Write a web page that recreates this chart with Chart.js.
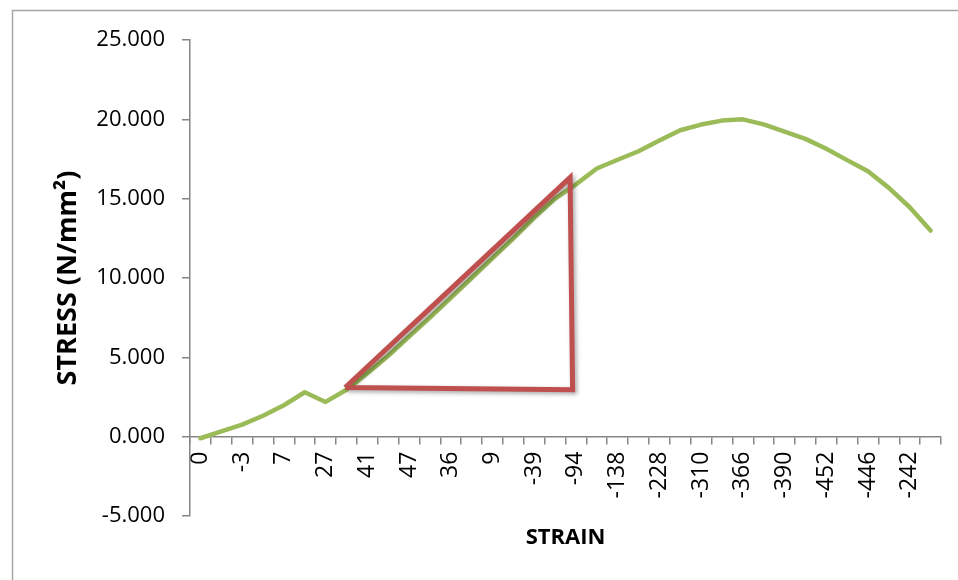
<!DOCTYPE html>
<html lang="en">
  <head>
    <meta charset="UTF-8" />
    <title>stress strain</title>
    <script src="https://cdn.jsdelivr.net/npm/chart.js@4/dist/chart.umd.min.js"></script>
    <style>
      body { margin: 0; background: #fff; }
      #wrap { width: 958px; height: 580px; }
    </style>
  </head>
  <body>
    <div id="wrap"><canvas id="stressChart" width="958" height="580"></canvas></div>
    <script>
      // strain tick labels (shown on every other category)
      const strainTicks = ["0", "-3", "7", "27", "41", "47", "36", "9", "-39", "-94", "-138", "-228", "-310", "-366", "-390", "-452", "-446", "-242"];
      // stress values, one per category (36 points)
      const stress = [
        -0.1, 0.33, 0.76, 1.32, 1.98, 2.8, 2.19, 2.96, 4.0, 5.1, 6.3, 7.5,
        8.75, 10.0, 11.25, 12.5, 13.8, 15.0, 15.9, 16.9, 17.45, 17.99, 18.66, 19.31,
        19.67, 19.92, 20.0, 19.68, 19.23, 18.77, 18.14, 17.43, 16.73, 15.68, 14.46, 12.99,
      ];
      // triangle drawn over the linear part (x in category units)
      const triX = [6.94, 17.72, 17.84, 6.94];
      const triY = [3.1, 16.33, 2.96, 3.1];

      const categories = stress.map(function (v, i) {
        return i % 2 === 0 ? strainTicks[i / 2] : "";
      });
      const triangle = triX.map(function (x, i) {
        return { x: x, y: triY[i] };
      });

      const axisColor = "#868686";
      const green = "#9BBB59";
      const red = "#C0504D";

      const frame = {
        id: "frame",
        beforeDraw: function (chart) {
          const c = chart.ctx;
          c.save();
          c.fillStyle = "#fff";
          c.fillRect(0, 0, chart.width, chart.height);
          c.strokeStyle = "#a6a6a6";
          c.lineWidth = 1.5;
          c.strokeRect(12.5, 10.5, 1200, 1000);
          c.restore();
        },
        beforeDatasetDraw: function (chart, args) {
          if (args.index !== 1) return;
          const c = chart.ctx;
          c.save();
          c.shadowColor = "rgba(0,0,0,0.35)";
          c.shadowBlur = 4;
          c.shadowOffsetX = 2;
          c.shadowOffsetY = 2;
        },
        afterDatasetDraw: function (chart, args) {
          if (args.index !== 1) return;
          chart.ctx.restore();
        },
      };

      const ctx = document.querySelector("#stressChart").getContext("2d");
      const myChart = new Chart(ctx, {
        type: "line",
        data: {
          labels: categories,
          datasets: [
            {
              data: stress,
              borderColor: green,
              borderWidth: 4.5,
              pointRadius: 0,
              tension: 0,
              borderCapStyle: "round",
              borderJoinStyle: "round",
              order: 1,
            },
            {
              data: triangle,
              xAxisID: "x2",
              borderColor: red,
              borderWidth: 5,
              pointRadius: 0,
              tension: 0,
              borderJoinStyle: "miter",
              order: 0,
            },
          ],
        },
        options: {
          responsive: false,
          animation: false,
          layout: { padding: { left: 0, top: 40, right: 17, bottom: 64 } },
          plugins: { legend: { display: false }, tooltip: { enabled: false } },
          scales: {
            x: {
              type: "category",
              position: { y: 0 },
              offset: true,
              grid: { offset: true, drawOnChartArea: false, tickLength: 7, color: axisColor, lineWidth: 1.5 },
              border: { color: axisColor, width: 1.5 },
              ticks: {
                autoSkip: false,
                minRotation: 90,
                maxRotation: 90,
                padding: 8,
                color: "#000",
                font: { family: "Open Sans", size: 23 },
              },
              title: {
                display: true,
                text: "STRAIN",
                color: "#000",
                font: { family: "Open Sans", size: 22, weight: "bold" },
                padding: { top: 18, bottom: 0 },
              },
              afterFit: function (scale) {
                scale.paddingLeft = 0;
                scale.paddingRight = 0;
              },
            },
            x2: { type: "linear", display: false, min: -0.5, max: 35.5 },
            y: {
              min: -5,
              max: 25,
              ticks: {
                stepSize: 5,
                padding: 17,
                color: "#000",
                font: { family: "Open Sans", size: 22 },
                callback: function (v) {
                  return v.toFixed(3);
                },
              },
              grid: { drawOnChartArea: false, tickLength: 8, color: axisColor, lineWidth: 1.5 },
              border: { color: axisColor, width: 1.5 },
              title: {
                display: true,
                text: "STRESS (N/mm²)",
                color: "#000",
                font: { family: "Open Sans", size: 27, weight: "bold" },
                padding: { top: 52, bottom: 0 },
              },
              afterFit: function (scale) {
                scale.width = 190;
              },
            },
          },
        },
        plugins: [frame],
      });
    </script>
  </body>
</html>
